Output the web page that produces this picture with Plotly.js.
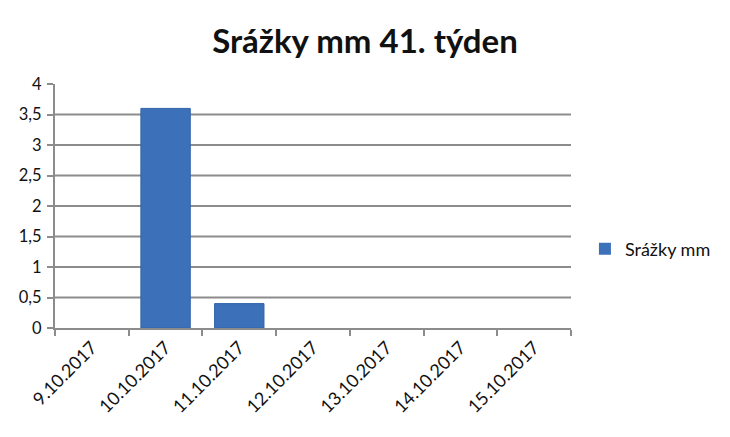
<!DOCTYPE html>
<html>
<head>
<meta charset="utf-8">
<script src="https://cdn.plot.ly/plotly-3.0.1.min.js"></script>
<style>html,body{margin:0;padding:0;background:#fff;}#chart{width:730px;height:437px;}</style>
</head>
<body>
<div id="chart"></div>
<script>
const categories = ["9.10.2017","10.10.2017","11.10.2017","12.10.2017","13.10.2017","14.10.2017","15.10.2017"];
const values = [0, 3.6, 0.4, 0, 0, 0, 0];
const seriesName = "Srážky mm";
const chartTitle = "Srážky mm 41. týden";
const yTickVals = [0, 0.5, 1, 1.5, 2, 2.5, 3, 3.5, 4];
const yTickText = ["0","0,5","1","1,5","2","2,5","3","3,5","4"];

const gridShapes = yTickVals.filter(v => v > 0 && v < 4).map(v => ({
  type: 'line', xref: 'paper', yref: 'y', x0: 0, x1: 1, y0: v, y1: v,
  line: {color: '#8c8c8c', width: 2}, layer: 'below'
}));

const trace = {
  type: 'bar', x: categories, y: values, name: seriesName,
  marker: {color: '#3c70b8', line: {color: '#3264a8', width: values.map(v => v > 0 ? 1 : 0)}},
  showlegend: true
};

const layout = {
  width: 730, height: 437,
  margin: {l: 55, r: 159, t: 84, b: 109},
  paper_bgcolor: '#fff', plot_bgcolor: '#fff',
  font: {family: 'Lato, "Open Sans", sans-serif', color: '#111'},
  title: {text: '<b>' + chartTitle + '</b>', x: 0.5, xref: 'container', xanchor: 'center', y: 0.905, yanchor: 'middle',
          font: {size: 33, family: 'Lato, "Open Sans", sans-serif', color: '#111'}},
  bargap: 0.33,
  xaxis: {
    type: 'category', tickangle: -45, tickson: 'boundaries', ticks: 'outside', ticklen: 6,
    tickcolor: '#8c8c8c', tickwidth: 2, showline: true, linecolor: '#8c8c8c', linewidth: 2,
    showgrid: false, tickfont: {size: 18, color: '#111'}
  },
  yaxis: {
    range: [0, 4], tickvals: yTickVals, ticktext: yTickText, showgrid: false, zeroline: false,
    showline: true, linecolor: '#8c8c8c', linewidth: 2, ticks: 'outside', ticklen: 6,
    tickcolor: '#8c8c8c', tickwidth: 2, tickfont: {size: 16.5, color: '#111'}, ticklabelstandoff: 2
  },
  shapes: gridShapes,
  legend: {x: 1.027, xanchor: 'left', y: 0.324, yanchor: 'middle', font: {size: 18, color: '#111'}, bgcolor: 'rgba(0,0,0,0)'}
};

Plotly.newPlot('chart', [trace], layout, {staticPlot: true, displayModeBar: false});
</script>
</body>
</html>
